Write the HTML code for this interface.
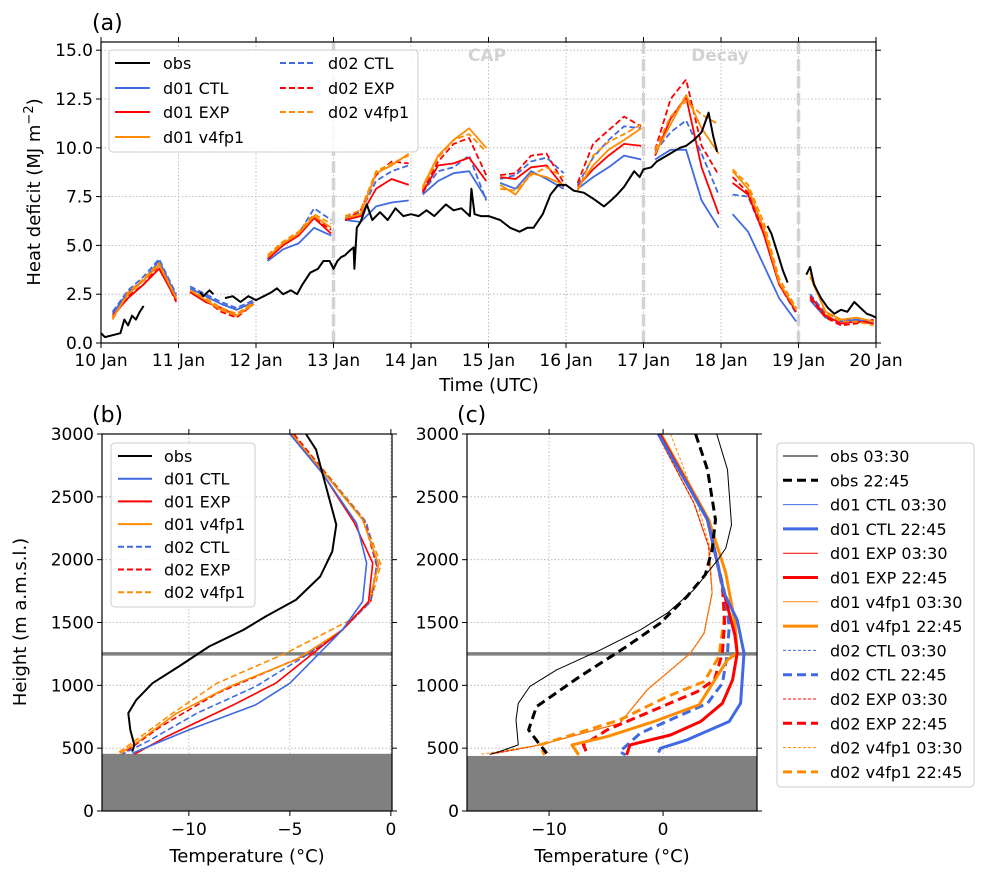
<!DOCTYPE html>
<html><head><meta charset="utf-8"><style>
body{margin:0;background:#fff;}
svg{display:block;font-family:"DejaVu Sans","Liberation Sans",sans-serif;}
</style></head><body>
<svg id="fig" width="997" height="879" viewBox="0 0 997 879" xmlns="http://www.w3.org/2000/svg"></svg>
<script>
// ---------- Panel (a) data ----------
const days = [10,11,12,13,14,15,16,17,18,19];
const modelOffsets = [0.15,0.35,0.55,0.75,0.97];
const d01CTL = [1.5,2.6,3.2,4.2,2.4, 2.8,2.4,2.0,1.7,2.1, 4.2,4.8,5.1,5.9,5.5, 6.3,6.2,7.0,7.2,7.3, 7.6,8.3,8.7,8.8,7.4, 8.2,7.9,8.8,8.4,7.9, 7.9,8.5,9.0,9.6,9.4, 9.4,9.9,9.9,7.3,5.9, 6.6,5.7,4.0,2.3,1.1, 2.2,1.3,1.1,1.2,1.0];
const d01EXP = [1.4,2.3,3.0,3.8,2.2, 2.6,2.1,1.8,1.4,2.0, 4.3,5.0,5.5,6.4,5.6, 6.3,6.5,7.9,8.4,8.1, 7.7,9.1,9.2,9.5,8.3, 8.5,8.4,9.0,9.1,8.0, 8.0,8.9,9.6,10.2,10.1, 9.6,11.5,12.6,9.0,6.6, 8.2,7.6,5.6,3.0,1.6, 2.4,1.4,1.0,1.1,1.0];
const d01V4 = [1.3,2.5,3.2,4.0,2.3, 2.7,2.2,1.7,1.4,2.0, 4.4,5.1,5.6,6.5,5.9, 6.4,6.6,8.7,9.1,9.7, 8.0,9.6,10.4,11.0,10.0, 8.1,7.6,8.7,8.5,8.1, 7.9,9.1,9.9,10.4,11.0, 9.7,11.2,12.7,11.0,9.7, 8.8,7.9,5.9,3.1,1.7, 3.4,1.6,1.2,1.3,1.1];
const d02CTL = [1.6,2.7,3.4,4.3,2.5, 2.9,2.5,2.1,1.8,2.2, 4.3,5.1,5.6,6.9,6.3, 6.4,6.7,8.3,8.8,9.1, 7.7,8.8,9.0,9.6,7.3, 8.4,8.6,9.3,9.5,8.7, 8.1,9.5,10.4,11.1,11.0, 9.8,10.8,11.4,9.7,7.6, 7.6,7.5,5.6,3.0,1.5, 2.5,1.5,1.2,1.2,1.1];
const d02EXP = [1.3,2.4,3.0,4.0,2.1, 2.6,2.2,1.6,1.3,2.0, 4.3,5.0,5.6,6.4,5.8, 6.3,6.8,8.6,9.3,9.2, 7.8,9.3,10.2,10.5,8.6, 8.6,8.7,9.6,9.7,8.2, 8.2,10.2,10.9,11.6,11.1, 9.9,12.5,13.5,10.1,8.6, 8.5,7.7,5.7,3.0,1.6, 2.3,1.3,0.9,1.0,1.2];
const d02V4 = [1.2,2.6,3.3,4.1,2.3, 2.7,2.3,1.8,1.5,2.1, 4.5,5.2,5.7,6.6,6.1, 6.5,6.8,8.8,9.2,9.6, 7.9,9.5,10.4,10.7,9.8, 7.9,7.8,8.6,9.0,8.5, 7.8,9.6,10.3,10.7,11.2, 9.9,11.6,12.4,11.7,11.2, 8.9,8.1,6.2,3.3,1.8, 3.6,1.5,1.1,1.1,0.9];
const obsT = [10.0,10.05,10.15,10.25,10.3,10.35,10.4,10.45,10.5,10.55,null,11.28,11.32,11.4,11.45,null,11.6,11.7,11.8,11.9,12.0,12.1,12.2,12.27,12.35,12.45,12.53,12.6,12.7,12.8,12.87,12.95,13.0,13.05,13.1,13.15,13.2,13.26,13.27,13.3,13.35,13.43,13.5,13.6,13.7,13.8,13.9,14.0,14.1,14.2,14.3,14.45,14.55,14.65,14.76,14.78,14.82,14.9,15.0,15.15,15.28,15.4,15.5,15.58,15.7,15.8,15.9,16.0,16.1,16.23,16.35,16.49,16.58,16.66,16.75,16.88,16.95,17.0,17.1,17.17,17.3,17.47,17.55,17.65,17.75,17.84,17.9,17.95,null,18.6,18.65,18.73,18.8,18.86,null,19.1,19.15,19.2,19.29,19.38,19.46,19.55,19.63,19.72,19.8,19.88,19.95,20.0];
const obsV = [0.5,0.3,0.4,0.5,1.2,0.9,1.4,1.2,1.6,1.9,null,2.6,2.4,2.7,2.5,null,2.3,2.4,2.1,2.4,2.2,2.4,2.6,2.8,2.5,2.7,2.5,3.0,3.6,3.8,4.2,4.2,3.8,4.2,4.4,4.5,4.7,4.9,3.8,5.9,6.2,7.1,6.3,6.7,6.3,6.9,6.5,6.6,6.5,6.8,6.5,7.1,6.8,6.9,6.5,7.9,6.6,6.5,6.5,6.3,5.9,5.7,5.9,5.9,6.6,7.6,8.1,8.1,7.8,7.7,7.4,7.0,7.3,7.6,8.0,8.8,8.5,8.9,9.0,9.3,9.6,10.0,10.1,10.4,10.8,11.8,10.6,9.8,null,6.0,5.6,4.6,3.7,3.1,null,3.5,3.9,3.0,2.3,1.8,1.5,1.7,1.6,2.1,1.8,1.5,1.4,1.3];
const aXTicks = ["10 Jan","11 Jan","12 Jan","13 Jan","14 Jan","15 Jan","16 Jan","17 Jan","18 Jan","19 Jan","20 Jan"];
const aYTicks = [0,2.5,5,7.5,10,12.5,15];
const phaseLines = [13,17,19];

// ---------- Panel (b) data: [temperature, height] ----------
const bObs = [[-4.2,3000],[-3.7,2875],[-2.7,2278],[-2.9,2066],[-3.5,1866],[-4.7,1680],[-6.2,1548],[-7.3,1441],[-9.0,1309],[-10.5,1150],[-11.8,1017],[-12.6,884],[-13.0,778],[-12.9,645],[-12.7,526],[-12.8,473]];
const bD01CTL = [[-5.0,3000],[-3.4,2690],[-1.7,2291],[-1.2,1973],[-1.4,1667],[-2.4,1441],[-5.0,1017],[-6.7,844],[-10.0,645],[-11.6,539],[-12.8,459]];
const bD01EXP = [[-5.0,3000],[-3.4,2690],[-1.8,2291],[-0.9,1973],[-1.1,1667],[-2.4,1441],[-5.7,1017],[-7.8,844],[-11.1,592],[-12.7,451]];
const bD01V4 = [[-4.9,3000],[-1.4,2318],[-0.6,1960],[-1.1,1667],[-2.4,1441],[-4.7,1203],[-8.0,990],[-10.6,778],[-12.4,566],[-13.4,459]];
const bD02CTL = [[-4.9,3000],[-1.2,2291],[-0.7,1960],[-1.0,1667],[-2.4,1441],[-4.3,1229],[-6.7,990],[-9.6,778],[-11.9,566],[-13.3,451]];
const bD02EXP = [[-4.8,3000],[-1.3,2300],[-0.7,1950],[-1.0,1667],[-2.4,1441],[-4.0,1256],[-8.6,937],[-11.4,672],[-13.3,451]];
const bD02V4 = [[-4.8,3000],[-1.3,2318],[-0.5,1960],[-1.0,1667],[-2.0,1521],[-5.2,1256],[-8.6,1017],[-10.8,778],[-12.4,590],[-13.6,451]];

// ---------- Panel (c) data ----------
const cObs0330 = [[4.7,3000],[5.65,2716],[6.0,2278],[5.5,2092],[4.8,1999],[2.7,1760],[0.35,1574],[-2.0,1441],[-5.5,1282],[-9.35,1123],[-11.7,990],[-12.7,857],[-12.9,725],[-12.7,526],[-14.35,473],[-15.2,451]];
const cObs2245 = [[2.85,3000],[3.9,2716],[4.6,2318],[4.3,2079],[3.7,1880],[2.1,1707],[-0.24,1495],[-3.2,1309],[-7.3,1070],[-11.1,831],[-11.8,645],[-10.8,526],[-10.2,459]];
const cModel0330 = [[-0.5,3000],[2.7,2451],[4.0,2105],[4.3,1734],[3.6,1415],[2.4,1256],[-1.4,964],[-3.8,698],[-10.8,526],[-15.2,451]];
const cV4d02_0330 = [[0.65,3000],[3.0,2451],[4.1,2105],[4.3,1734],[3.6,1415],[2.4,1256],[-1.4,964],[-3.8,698],[-10.8,526],[-16.0,451]];
const cD01CTL2245 = [[-0.4,3000],[3.9,2318],[5.35,1734],[6.5,1521],[7.1,1256],[6.8,857],[5.8,712],[2.1,566],[-0.24,499],[-0.4,465]];
const cD01EXP2245 = [[-0.3,3000],[3.9,2318],[5.35,1734],[6.3,1400],[6.5,1256],[6.1,1043],[5.2,857],[3.3,712],[0.65,605],[-2.9,526],[-3.2,446]];
const cD02CTL2245 = [[-0.3,3000],[3.9,2318],[5.4,1734],[5.8,1468],[5.65,1256],[5.2,1017],[3.9,857],[0.94,738],[-2.0,619],[-3.8,473],[-3.3,446]];
const cD01V42245 = [[-0.2,3000],[4.0,2318],[5.5,1893],[6.3,1500],[6.5,1256],[5.65,1203],[3.15,844],[-0.8,712],[-4.9,592],[-8.0,526],[-7.4,446]];
const cD02EXP2245 = [[-0.3,3000],[3.9,2318],[5.2,1800],[5.4,1500],[5.2,1256],[4.5,1043],[3.0,950],[-0.8,804],[-4.9,645],[-7.0,526],[-6.6,446]];
const cD02V42245 = [[-0.2,3000],[4.0,2318],[5.5,1627],[4.9,1229],[3.6,1030],[0.35,910],[-3.8,725],[-10.8,526],[-10.4,446]];
const hTicks = [0,500,1000,1500,2000,2500,3000];
const bXTicks = [-10,-5,0];
const cXTicks = [-10,0];

const svg = document.getElementById('fig');
const NS = 'http://www.w3.org/2000/svg';
function el(tag, attrs, parent){ const e=document.createElementNS(NS,tag); for(const k in attrs) e.setAttribute(k,attrs[k]); (parent||svg).appendChild(e); return e; }
function txt(s, x, y, size, anchor, parent, extra){ const t=el('text',Object.assign({x:x,y:y,'font-size':size,'text-anchor':anchor||'middle',fill:'#000'},extra||{}),parent); t.textContent=s; return t; }

const BLUE='#4169e1', RED='#ff0000', ORANGE='#ff8c00';

// ---------- Panel (a) ----------
const A={x0:101,x1:876,y0:42,y1:343};
const ax = d => A.x0 + (d-10)*(A.x1-A.x0)/10;
const ay = v => A.y1 - v*19.52;
const ga = el('g',{});  
aXTicks.forEach((s,i)=>{ const x=ax(10+i);
  const g=el('line',{x1:x,x2:x,y1:A.y0,y2:A.y1,stroke:'#b0b0b0','stroke-width':0.8,'stroke-dasharray':'1.5,2'},ga);  
  el('line',{x1:x,x2:x,y1:A.y1,y2:A.y1+5,stroke:'#000'},ga); el('line',{x1:x,x2:x,y1:A.y0,y2:A.y0-5,stroke:'#000'},ga);
  const t=txt(s,x,A.y1+23,17,'middle',ga);  
});
aYTicks.forEach(v=>{ const y=ay(v);
  const g=el('line',{x1:A.x0,x2:A.x1,y1:y,y2:y,stroke:'#b0b0b0','stroke-width':0.8,'stroke-dasharray':'1.5,2'},ga);  
  el('line',{x1:A.x0,x2:A.x0-5,y1:y,y2:y,stroke:'#000'},ga); el('line',{x1:A.x1,x2:A.x1+5,y1:y,y2:y,stroke:'#000'},ga);
  const t=txt(v.toFixed(1),A.x0-8,y+6,17,'end',ga);  
});
phaseLines.forEach(d=>{ const l=el('line',{x1:ax(d),x2:ax(d),y1:A.y0,y2:A.y1,stroke:'#d3d3d3','stroke-width':3.5,'stroke-dasharray':'12,5'},ga);
    });
let t1=txt('CAP',487,61,17,'middle',ga,{'font-weight':'bold',fill:'#d3d3d3'});  
let t2=txt('Decay',720,61,17,'middle',ga,{'font-weight':'bold',fill:'#d3d3d3'});  
function modelSeries(vals,color,dash,name){
  const g=el('g',{},ga);  
  days.forEach((d,i)=>{ const pts=modelOffsets.map((o,j)=>ax(d+o).toFixed(1)+','+ay(vals[i*5+j]).toFixed(1)).join(' ');
    el('polyline',{points:pts,fill:'none',stroke:color,'stroke-width':1.8,'stroke-dasharray':dash||'none','stroke-linejoin':'round'},g); });
}
modelSeries(d01CTL,BLUE,null,'series-d01-ctl');
modelSeries(d02CTL,BLUE,'6,3','series-d02-ctl');
modelSeries(d01EXP,RED,null,'series-d01-exp');
modelSeries(d02EXP,RED,'6,3','series-d02-exp');
modelSeries(d01V4,ORANGE,null,'series-d01-v4fp1');
modelSeries(d02V4,ORANGE,'6,3','series-d02-v4fp1');
(function(){ const g=el('g',{},ga);  
  let seg=[]; const flush=()=>{ if(seg.length>1) el('polyline',{points:seg.join(' '),fill:'none',stroke:'#000','stroke-width':2,'stroke-linejoin':'round'},g); seg=[]; };
  obsT.forEach((t,i)=>{ if(t===null||obsV[i]===null){flush();return;} seg.push(ax(t).toFixed(1)+','+ay(obsV[i]).toFixed(1)); }); flush(); })();
el('rect',{x:A.x0,y:A.y0,width:A.x1-A.x0,height:A.y1-A.y0,fill:'none',stroke:'#000','stroke-width':1.2},ga);
(function(){ const g=el('g',{},ga);  
  el('rect',{x:109,y:50,width:309,height:102,rx:4,fill:'#fff','fill-opacity':0.85,stroke:'#ccc'},g);
  const items=[['obs','#000',null,115,63],['d01 CTL',BLUE,null,115,88],['d01 EXP',RED,null,115,112],['d01 v4fp1',ORANGE,null,115,137],
    ['d02 CTL',BLUE,'6,3',280,63],['d02 EXP',RED,'6,3',280,88],['d02 v4fp1',ORANGE,'6,3',280,112]];
  items.forEach(it=>{ const e=el('g',{},g);  
    el('line',{x1:it[3],x2:it[3]+35,y1:it[4],y2:it[4],stroke:it[1],'stroke-width':2,'stroke-dasharray':it[2]||'none'},e);
    txt(it[0],it[3]+48,it[4]+6,16,'start',e); });
})();
let la=txt('(a)',92,30,22,'start');  
let xa=txt('Time (UTC)',489,391,18);  
let ya=el('text',{x:0,y:0,'font-size':18,'text-anchor':'middle',transform:'translate(40,192) rotate(-90)'});  
ya.innerHTML='Heat deficit (MJ m<tspan dy="-7" font-size="13">−2</tspan><tspan dy="7">)</tspan>';

// ---------- Profile panels ----------
function profilePanel(P,xTicks,series,name,label,labelX){
  const g=el('g',{});  
  const px=T=>P.x0+(T-P.tmin)*P.sx; const py=z=>P.y1-z*(P.y1-P.y0)/3000;
  xTicks.forEach(v=>{ const x=px(v);
    el('line',{x1:x,x2:x,y1:P.y0,y2:P.y1,stroke:'#b0b0b0','stroke-width':0.8,'stroke-dasharray':'1.5,2'},g);
    el('line',{x1:x,x2:x,y1:P.y1,y2:P.y1+5,stroke:'#000'},g); el('line',{x1:x,x2:x,y1:P.y0,y2:P.y0-5,stroke:'#000'},g);
    const t=txt(v<0?'−'+Math.abs(v):String(v),x,P.y1+24,17,'middle',g);   });
  hTicks.forEach(v=>{ const y=py(v);
    el('line',{x1:P.x0,x2:P.x1,y1:y,y2:y,stroke:'#b0b0b0','stroke-width':0.8,'stroke-dasharray':'1.5,2'},g);
    el('line',{x1:P.x0,x2:P.x0-5,y1:y,y2:y,stroke:'#000'},g); el('line',{x1:P.x1,x2:P.x1+5,y1:y,y2:y,stroke:'#000'},g);
    const t=txt(String(v),P.x0-8,y+6,17,'end',g);   });
  const gr=el('rect',{x:P.x0,y:py(P.ground),width:P.x1-P.x0,height:P.y1-py(P.ground),fill:'#808080'},g);  
  const hl=el('line',{x1:P.x0,x2:P.x1,y1:py(1250),y2:py(1250),stroke:'#808080','stroke-width':3.5},g);  
  series.forEach(s=>{ const p=el('polyline',{points:s.d.map(q=>px(q[0]).toFixed(1)+','+py(q[1]).toFixed(1)).join(' '),fill:'none',stroke:s.c,'stroke-width':s.w,'stroke-dasharray':s.dash||'none','stroke-linejoin':'round'},g);
      });
  el('rect',{x:P.x0,y:P.y0,width:P.x1-P.x0,height:P.y1-P.y0,fill:'none',stroke:'#000','stroke-width':1.2},g);
  const l=txt(label,labelX,422,22,'start',g);  
  const xt=txt('Temperature (°C)',(P.x0+P.x1)/2,862,18,'middle',g);  
  return g;
}
profilePanel({x0:102,x1:392,y0:434,y1:811,tmin:-14.3,sx:20.2,ground:455},bXTicks,[
  {d:bD02V4,c:ORANGE,w:1.6,dash:'6,3',n:'profile-d02-v4fp1'},
  {d:bD02EXP,c:RED,w:1.6,dash:'6,3',n:'profile-d02-exp'},
  {d:bD02CTL,c:BLUE,w:1.6,dash:'6,3',n:'profile-d02-ctl'},
  {d:bD01V4,c:ORANGE,w:1.6,n:'profile-d01-v4fp1'},
  {d:bD01EXP,c:RED,w:1.6,n:'profile-d01-exp'},
  {d:bD01CTL,c:BLUE,w:1.6,n:'profile-d01-ctl'},
  {d:bObs,c:'#000',w:2,n:'profile-obs'}],'panel-b','(b)',92);
profilePanel({x0:467,x1:757,y0:434,y1:811,tmin:-17.2,sx:11.4,ground:438},cXTicks,[
  {d:cModel0330,c:BLUE,w:1,n:'profile-d01-ctl-0330'},
  {d:cModel0330,c:RED,w:1,n:'profile-d01-exp-0330'},
  {d:cModel0330,c:ORANGE,w:1,n:'profile-d01-v4fp1-0330'},
  {d:cModel0330,c:RED,w:1,dash:'3,2',n:'profile-d02-exp-0330'},
  {d:cV4d02_0330,c:ORANGE,w:1,dash:'3,2',n:'profile-d02-v4fp1-0330'},
  {d:cD02V42245,c:ORANGE,w:3,dash:'9,5',n:'profile-d02-v4fp1-2245'},
  {d:cD02EXP2245,c:RED,w:3,dash:'9,5',n:'profile-d02-exp-2245'},
  {d:cD02CTL2245,c:BLUE,w:3,dash:'9,5',n:'profile-d02-ctl-2245'},
  {d:cD01V42245,c:ORANGE,w:3,n:'profile-d01-v4fp1-2245'},
  {d:cD01EXP2245,c:RED,w:3,n:'profile-d01-exp-2245'},
  {d:cD01CTL2245,c:BLUE,w:3,n:'profile-d01-ctl-2245'},
  {d:cObs0330,c:'#000',w:1,n:'profile-obs-0330'},
  {d:cObs2245,c:'#000',w:3,dash:'9,5',n:'profile-obs-2245'}],'panel-c','(c)',457);
let yb=el('text',{x:0,y:0,'font-size':18,'text-anchor':'middle',transform:'translate(26,622) rotate(-90)'}); yb.textContent='Height (m a.m.s.l.)';
 

(function(){ const g=el('g',{});  
  el('rect',{x:111,y:443,width:144,height:164,rx:4,fill:'#fff','fill-opacity':0.85,stroke:'#ccc'},g);
  const items=[['obs','#000',null],['d01 CTL',BLUE,null],['d01 EXP',RED,null],['d01 v4fp1',ORANGE,null],['d02 CTL',BLUE,'6,3'],['d02 EXP',RED,'6,3'],['d02 v4fp1',ORANGE,'6,3']];
  items.forEach((it,i)=>{ const y=456+i*22.7; const e=el('g',{},g);  
    el('line',{x1:118,x2:152,y1:y,y2:y,stroke:it[1],'stroke-width':2,'stroke-dasharray':it[2]||'none'},e);
    txt(it[0],164,y+6,16,'start',e); });
})();
(function(){ const g=el('g',{});  
  el('rect',{x:777,y:443,width:197,height:344,rx:4,fill:'#fff',stroke:'#ccc'},g);
  const items=[['obs 03:30','#000',1,null],['obs 22:45','#000',3,'9,5'],['d01 CTL 03:30',BLUE,1,null],['d01 CTL 22:45',BLUE,3,null],
    ['d01 EXP 03:30',RED,1,null],['d01 EXP 22:45',RED,3,null],['d01 v4fp1 03:30',ORANGE,1,null],['d01 v4fp1 22:45',ORANGE,3,null],
    ['d02 CTL 03:30',BLUE,1,'3,2'],['d02 CTL 22:45',BLUE,3,'9,5'],['d02 EXP 03:30',RED,1,'3,2'],['d02 EXP 22:45',RED,3,'9,5'],
    ['d02 v4fp1 03:30',ORANGE,1,'3,2'],['d02 v4fp1 22:45',ORANGE,3,'9,5']];
  items.forEach((it,i)=>{ const y=456+i*24.3; const e=el('g',{},g);  
    el('line',{x1:783,x2:818,y1:y,y2:y,stroke:it[1],'stroke-width':it[2],'stroke-dasharray':it[3]||'none'},e);
    txt(it[0],830,y+6,16,'start',e); });
})();
</script>
</body></html>
